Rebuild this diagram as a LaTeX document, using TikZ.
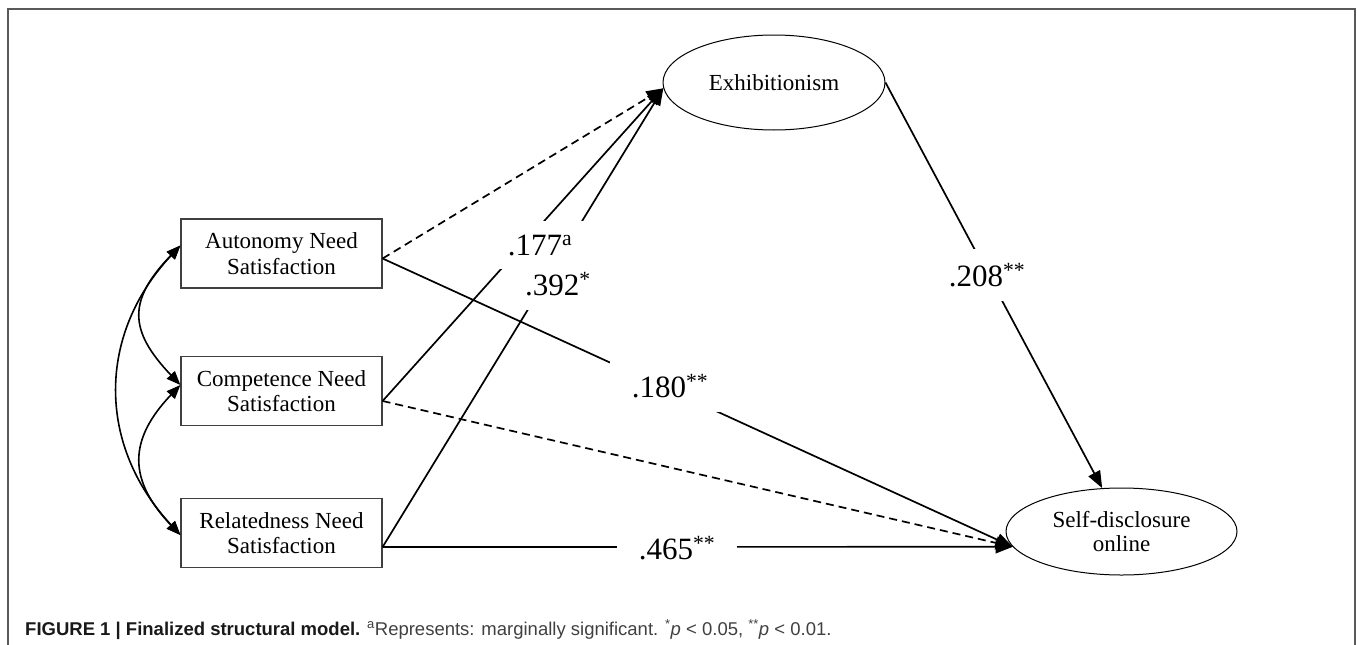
\documentclass[tikz,border=0pt]{standalone}
\usepackage{fontspec}
\setmainfont{Liberation Serif}
\setsansfont{Liberation Sans}
\usetikzlibrary{arrows.meta,shapes.geometric}

\begin{document}
\begin{tikzpicture}[
    x=1pt, y=-1pt,
    var/.style={draw=black!75, line width=1.2pt, minimum width=201pt, minimum height=69pt,
      inner sep=0pt, align=center, font=\fontsize{23}{25.5}\selectfont},
    latent/.style={ellipse, draw, line width=1pt, inner sep=0pt, align=center,
      font=\fontsize{23}{24}\selectfont},
    effect/.style={line width=1.7pt, -{Triangle[length=17pt,width=13pt]}},
    nseffect/.style={effect, dash pattern=on 8pt off 5pt},
    covar/.style={line width=1.6pt, {Triangle[length=14pt,width=11pt]}-{Triangle[length=14pt,width=11pt]}},
    coef/.style={fill=white, inner xsep=22pt, inner ysep=14pt, font=\fontsize{31}{31}\selectfont}
  ]

  \useasboundingbox (0,0) rectangle (1357,645);
  \draw[black!65, line width=1.4pt] (8,645) -- (8,9) -- (1355,9) -- (1355,645);

  % --- Observed needs ---
  \node[var] (aut)  at (281.5,253.5) {Autonomy Need\\Satisfaction};
  \node[var] (comp) at (281.5,391)   {Competence Need\\Satisfaction};
  \node[var] (rel)  at (281.5,533)   {Relatedness Need\\Satisfaction};

  % --- Latent variables ---
  \node[latent, minimum width=222pt, minimum height=95pt] (exh) at (774,82.5) {Exhibitionism};
  \node[latent, minimum width=231pt, minimum height=87pt] (sd) at (1121.5,531.5) {Self-disclosure\\online};

  % --- Covariances ---
  \draw[covar] ([yshift=8pt]aut.west) .. controls (128,300) and (128,330) .. ([yshift=6pt]comp.west);
  \draw[covar] ([yshift=6pt]comp.west) .. controls (128,440) and (128,480) .. ([yshift=-2pt]rel.west);
  \draw[covar] ([yshift=8pt]aut.west) .. controls (97,335) and (97,445) .. ([yshift=-2pt]rel.west);

  % --- Paths ---
  \draw[nseffect] ([yshift=-5pt]aut.east) -- (exh.183);
  \draw[effect] ([yshift=-14pt]rel.east) -- (exh.183);
  \draw[effect] ([yshift=-10pt]comp.east) -- (exh.183);
  \draw[effect] ([yshift=-5pt]aut.east) -- (sd.188);
  \draw[nseffect] ([yshift=-10pt]comp.east) -- (sd.188);
  \draw[effect] ([yshift=-14pt]rel.east) -- (sd.188);
  \draw[effect] (exh.east) -- (sd.114);

  % --- Coefficients ---
  \node[coef] (c392) at (558,284) {.392\textsuperscript{*}};
  \node[coef] (c177) at (540,245) {.177\textsuperscript{a}};
  \node[coef] (c180) at (670,386) {.180\textsuperscript{**}};
  \node[coef] (c208) at (987,275) {.208\textsuperscript{**}};
  \node[coef] (c465) at (677,548) {.465\textsuperscript{**}};

  % --- Caption ---
  \node[anchor=base west, inner sep=0pt, font=\sffamily\fontsize{18.5}{20}\selectfont] (caption) at (25,635)
    {\textcolor{black!90}{\bfseries FIGURE 1 | Finalized structural model.}
     \textcolor{black!75}{\textsuperscript{a}Represents: marginally significant. \textsuperscript{*}\textit{p} < 0.05, \textsuperscript{**}\textit{p} < 0.01.}};

\end{tikzpicture}
\end{document}
